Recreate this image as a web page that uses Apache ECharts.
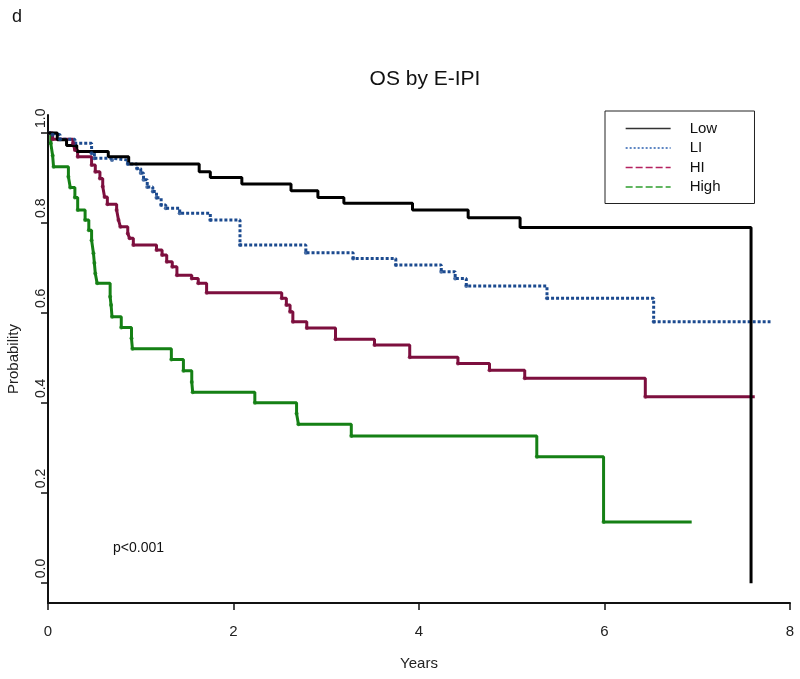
<!DOCTYPE html>
<html>
<head>
<meta charset="utf-8">
<title>OS by E-IPI</title>
<script src="https://cdn.jsdelivr.net/npm/echarts@6/dist/echarts.min.js"></script>
<style>
  html, body { margin: 0; padding: 0; background: #fff; }
  #chart { width: 800px; height: 679px; }
</style>
</head>
<body>
<div id="chart"></div>
<script>
// survival step points (time in years, survival probability)
const lowT = [0, 0.1, 0.2, 0.31, 0.65, 0.87, 1.63, 1.75, 2.09, 2.62, 2.91, 3.19, 3.93, 4.53, 5.09, 7.58];
const lowS = [1.0, 0.985, 0.972, 0.959, 0.947, 0.931, 0.914, 0.901, 0.887, 0.872, 0.857, 0.844, 0.829, 0.812, 0.79, 0.0];

const liT = [0, 0.05, 0.13, 0.29, 0.47, 0.5, 0.69, 0.86, 0.96, 1.0, 1.03, 1.07, 1.13, 1.17, 1.22, 1.27, 1.42, 1.75, 2.07, 2.78, 3.29, 3.75, 4.24, 4.39, 4.51, 5.38, 6.53, 7.79];
const liS = [1.0, 0.996, 0.986, 0.977, 0.955, 0.944, 0.94, 0.931, 0.921, 0.911, 0.896, 0.88, 0.87, 0.856, 0.84, 0.833, 0.822, 0.807, 0.751, 0.734, 0.721, 0.707, 0.692, 0.677, 0.66, 0.633, 0.581, 0.581];

const hiT = [0, 0.05, 0.27, 0.29, 0.32, 0.47, 0.51, 0.56, 0.59, 0.61, 0.64, 0.74, 0.76, 0.78, 0.86, 0.88, 0.92, 1.17, 1.23, 1.28, 1.34, 1.39, 1.55, 1.62, 1.71, 2.52, 2.57, 2.61, 2.64, 2.79, 3.10, 3.52, 3.90, 4.42, 4.76, 5.14, 6.44, 7.62];
const hiS = [1.0, 0.986, 0.977, 0.962, 0.947, 0.929, 0.914, 0.899, 0.881, 0.858, 0.842, 0.829, 0.807, 0.792, 0.777, 0.766, 0.751, 0.74, 0.729, 0.714, 0.703, 0.684, 0.677, 0.666, 0.645, 0.633, 0.618, 0.603, 0.581, 0.567, 0.542, 0.529, 0.502, 0.488, 0.473, 0.455, 0.414, 0.414];

const highT = [0, 0.03, 0.05, 0.06, 0.22, 0.24, 0.29, 0.32, 0.40, 0.44, 0.47, 0.49, 0.50, 0.51, 0.53, 0.67, 0.68, 0.69, 0.79, 0.90, 0.91, 1.33, 1.46, 1.55, 1.56, 2.23, 2.68, 2.70, 3.27, 5.27, 5.99, 6.94];
const highS = [1.0, 0.977, 0.95, 0.925, 0.903, 0.879, 0.857, 0.829, 0.807, 0.784, 0.762, 0.733, 0.711, 0.688, 0.666, 0.636, 0.618, 0.592, 0.568, 0.544, 0.521, 0.497, 0.472, 0.447, 0.424, 0.401, 0.377, 0.353, 0.327, 0.281, 0.136, 0.136];

const groupNames = ["Low", "LI", "HI", "High"];
const yTicks = [0, 0.2, 0.4, 0.6, 0.8, 1.0];

const colors = ["#000000", "#1b4a8f", "#7d0f3e", "#158015"];
const legendColors = ["#333333", "#2a5fb0", "#b5215f", "#2e9e2e"];
const font = "Liberation Sans, Arial, sans-serif";

const pairs = (t, s) => t.map((v, i) => [v, s[i]]);
const curves = [pairs(lowT, lowS), pairs(liT, liS), pairs(hiT, hiS), pairs(highT, highS)];

const lineSeries = curves.map((d, i) => ({
  name: groupNames[i],
  type: "line",
  step: "end",
  data: d,
  symbol: "none",
  lineStyle: { color: colors[i], width: 3, type: i === 1 ? [3, 2] : "solid" },
  itemStyle: { color: colors[i] },
  z: 5 - i
}));

// censor dots on the step corners (not on Low)
const markSeries = [1, 2, 3].map(i => ({
  name: groupNames[i] + " marks",
  type: "scatter",
  data: curves[i].slice(1, -1),
  symbol: "circle",
  symbolSize: 4,
  itemStyle: { color: colors[i] },
  z: 6
}));

const chart = echarts.init(document.getElementById("chart"));
chart.setOption({
  animation: false,
  backgroundColor: "#fff",
  textStyle: { fontFamily: font },
  title: [
    { text: "d", left: 7, top: 3, textStyle: { fontFamily: font, fontSize: 18, fontWeight: "normal", color: "#111" } },
    { text: "OS by E-IPI", left: 420, top: 64, textAlign: "center", textStyle: { fontFamily: font, fontSize: 21, fontWeight: "normal", color: "#111" } },
    { text: "p<0.001", left: 108, top: 536, textStyle: { fontFamily: font, fontSize: 14, fontWeight: "normal", color: "#111" } }
  ],
  legend: {
    data: groupNames.map((n, i) => ({
      name: n,
      itemStyle: { color: "transparent", opacity: 0, borderWidth: 0 },
      lineStyle: { color: legendColors[i], width: 1.3, type: i === 0 ? "solid" : i === 1 ? [2, 2] : [7, 3] }
    })),
    orient: "vertical",
    left: 605,
    top: 111,
    padding: [10, 34, 9, 20],
    itemWidth: 45,
    itemHeight: 14,
    itemGap: 4.5,
    borderColor: "#222",
    borderWidth: 1,
    textStyle: { fontFamily: font, fontSize: 15, color: "#111", padding: [0, 0, 0, 14], lineHeight: 14 }
  },
  grid: { left: 48, right: 10, top: 115, bottom: 76, outerBoundsMode: "none", containLabel: false },
  xAxis: {
    type: "value",
    min: 0,
    max: 8,
    interval: 2,
    name: "Years",
    nameLocation: "middle",
    nameGap: 53,
    nameTextStyle: { fontFamily: font, fontSize: 15, color: "#222" },
    axisLine: { show: true, onZero: false, lineStyle: { color: "#111", width: 2 } },
    axisTick: { show: true, length: 7, lineStyle: { color: "#111", width: 1.5 } },
    axisLabel: { fontFamily: font, fontSize: 15, color: "#222", margin: 21 },
    splitLine: { show: false }
  },
  yAxis: {
    type: "value",
    min: -0.044,
    max: 1.04,
    name: "Probability",
    nameLocation: "middle",
    nameGap: 27,
    nameRotate: 90,
    nameTextStyle: { fontFamily: font, fontSize: 15, color: "#222" },
    axisLine: { show: true, onZero: false, lineStyle: { color: "#111", width: 2 } },
    axisTick: { show: true, length: 7, customValues: yTicks, lineStyle: { color: "#111", width: 1.5 } },
    axisLabel: {
      customValues: yTicks,
      fontFamily: font,
      fontSize: 14,
      color: "#222",
      rotate: 90,
      margin: 7,
      align: "left",
      verticalAlign: "middle",
      padding: [0, 0, 0, 5],
      formatter: v => v.toFixed(1)
    },
    splitLine: { show: false }
  },
  series: lineSeries.concat(markSeries)
});
window.addEventListener("resize", () => chart.resize());
</script>
</body>
</html>
